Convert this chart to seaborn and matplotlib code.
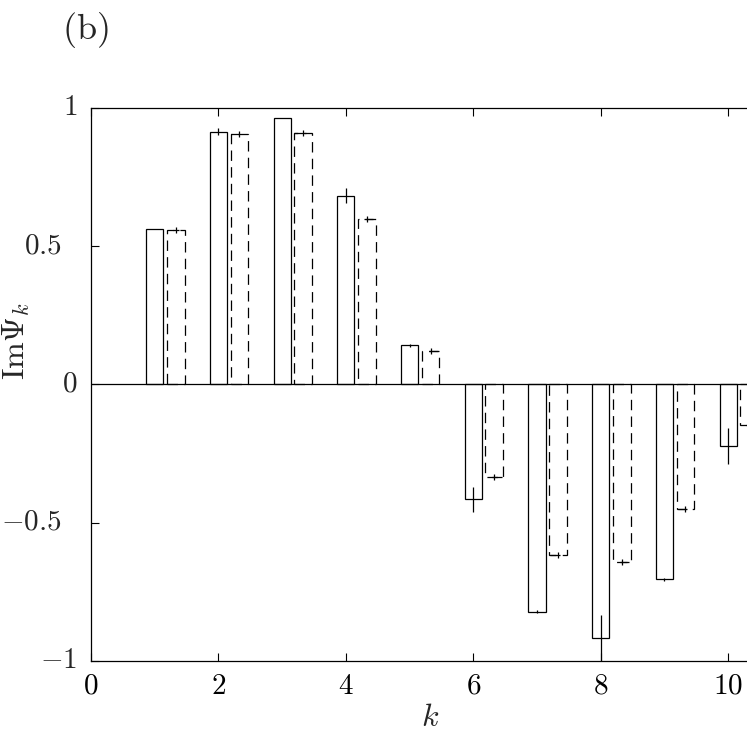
import numpy as np
import pandas as pd
import matplotlib
matplotlib.use("Agg")
import matplotlib.pyplot as plt
import matplotlib.transforms as mtransforms
import seaborn as sns

# data
k = np.arange(1, 11)
solid = [0.563, 0.915, 0.963, 0.683, 0.142, -0.415, -0.822, -0.918, -0.704, -0.223]
solid_err = [0.0, 0.012, 0.0, 0.028, 0.005, 0.045, 0.005, 0.085, 0.005, 0.064]
dashed = [0.560, 0.905, 0.910, 0.600, 0.120, -0.335, -0.615, -0.643, -0.452, -0.148]
dashed_xlo = [0.05, 0.14, 0.14, 0.04, 0.03, 0.03, 0.12, 0.03, 0.12, 0.05]
dashed_xhi = [0.05, 0.00, 0.04, 0.10, 0.12, 0.12, 0.03, 0.12, 0.03, 0.05]
xticks = [0, 2, 4, 6, 8, 10]
yticks = [-1, -0.5, 0, 0.5, 1]
ytick_labels = [r"$-1$", r"$-0.5$", "$0$", r"$0.5$", "$1$"]

sns.set_style("ticks")
plt.rcParams["mathtext.fontset"] = "cm"
plt.rcParams["font.family"] = ["cmr10", "DejaVu Serif"]
plt.rcParams["axes.formatter.use_mathtext"] = True
plt.rcParams["lines.scale_dashes"] = False

fig = plt.figure(figsize=(7.47, 7.32), dpi=100)
ax = fig.add_axes([91 / 747, 1 - 661 / 732, 1 - 91 / 747 + 0.002, (661 - 108) / 732])

df_s = pd.DataFrame({"k": k, "v": solid})
df_d = pd.DataFrame({"k": k + 0.33, "v": dashed})

sns.barplot(data=df_s, x="k", y="v", native_scale=True, width=0.27, fill=False,
            color="black", linewidth=0.9, errorbar=None, ax=ax)
n_solid = len(ax.patches)
sns.barplot(data=df_d, x="k", y="v", native_scale=True, width=0.28, fill=False,
            color="black", linewidth=0.9, errorbar=None, ax=ax)
for p in ax.patches[n_solid:]:
    p.set_linestyle((0, (7.5, 4.5)))
for p in ax.patches:
    p.set_edgecolor("black")

# error bars
ax.errorbar(k, solid, yerr=solid_err, fmt="none", ecolor="black", elinewidth=0.9)
ax.errorbar(k + 0.33, dashed, xerr=[dashed_xlo, dashed_xhi], fmt="|", ms=4,
            color="black", elinewidth=0.9, mew=0.9)

ax.axhline(0, color="black", lw=0.9)

ax.set_xlim(0, 10.32)
ax.set_ylim(-1, 1)
ax.set_xticks(xticks)
ax.set_yticks(yticks)
ax.set_xticklabels([f"${t}$" for t in xticks])
ax.set_yticklabels([])
ax.tick_params(direction="in", length=6, width=0.8, top=True, right=False,
               labelsize=21, colors="black")
ax.tick_params(axis="x", pad=9)

# y tick labels placed by hand: gnuplot-style offsets (decimals sit further left)
trans = mtransforms.blended_transform_factory(ax.transAxes, ax.transData)
for v, lab in zip(yticks, ytick_labels):
    xpos = -0.0213 if float(v).is_integer() else -0.0442
    ax.text(xpos, v, lab, transform=trans, ha="right", va="center", fontsize=21)

ax.spines["right"].set_visible(False)
for s in ["left", "top", "bottom"]:
    ax.spines[s].set_linewidth(0.9)
    ax.spines[s].set_color("black")

ax.set_xlabel("")
ax.set_ylabel("")
fig.text(430 / 747, 1 - 718 / 732, "$k$", fontsize=23, ha="center", va="center")
fig.text(16 / 747, 1 - 341 / 732, r"$\mathrm{Im}\Psi_k$", fontsize=23,
         rotation=90, ha="center", va="center")
fig.text(62 / 747, 1 - 30 / 732, r"$(\mathrm{b})$", fontsize=26, va="center", ha="left")

fig.savefig("out.png", dpi=100)
